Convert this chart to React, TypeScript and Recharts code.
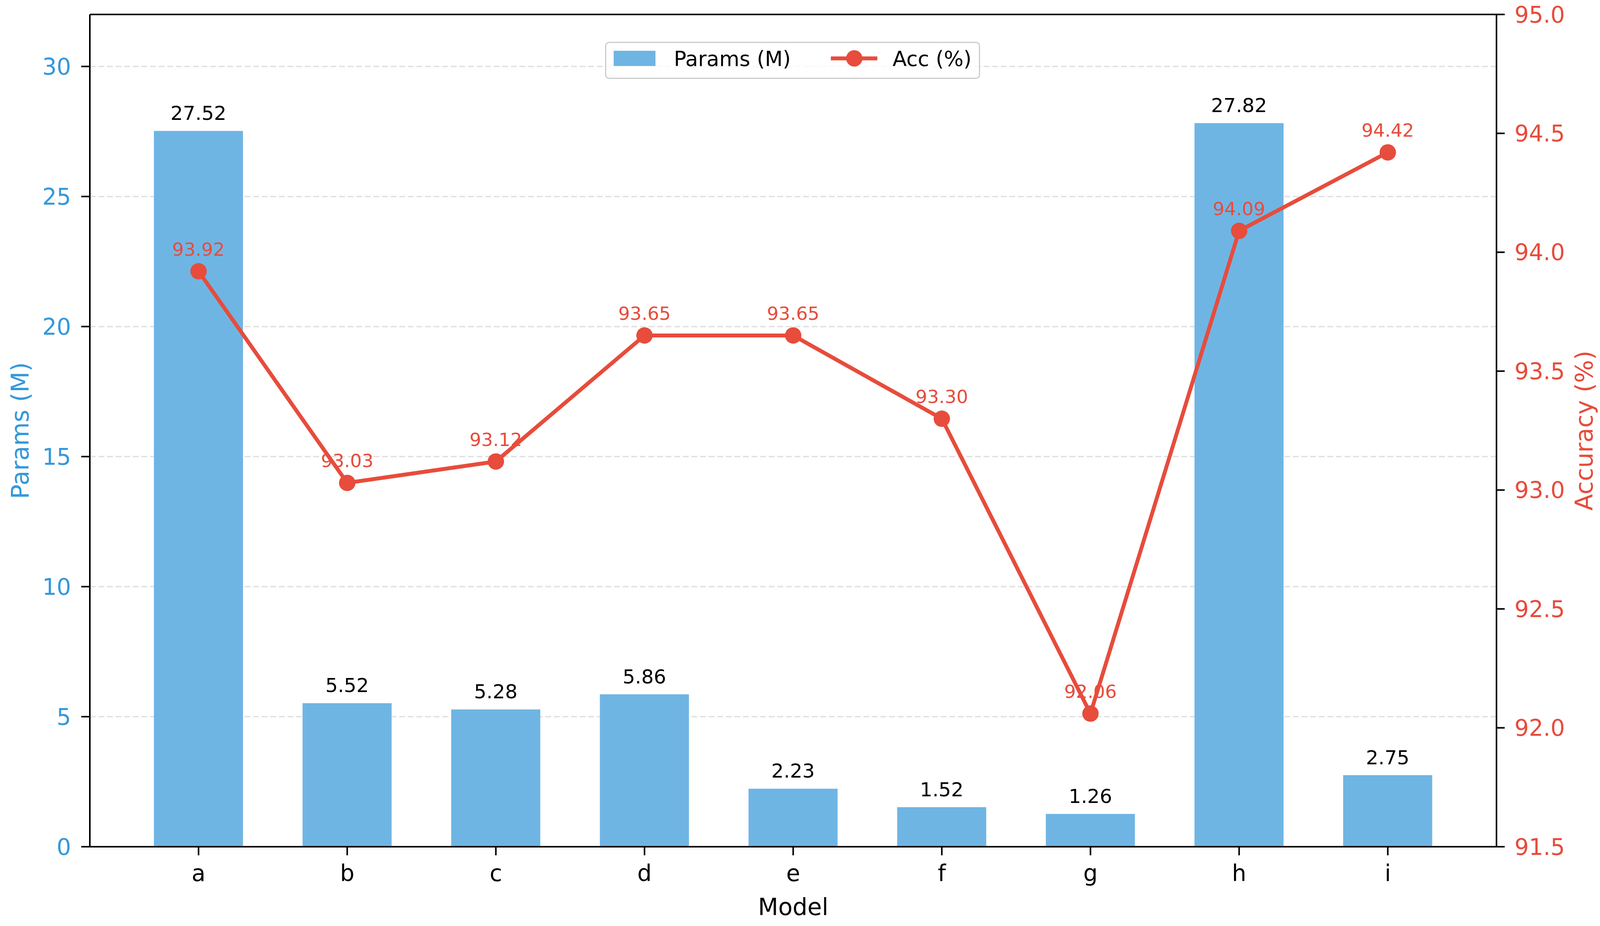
import React from "react";
import {
  ComposedChart,
  Bar,
  Line,
  XAxis,
  YAxis,
  CartesianGrid,
  LabelList,
  Label,
  ReferenceLine,
} from "recharts";

const models = ["a", "b", "c", "d", "e", "f", "g", "h", "i"];
const params = [27.52, 5.52, 5.28, 5.86, 2.23, 1.52, 1.26, 27.82, 2.75];
const acc = [93.92, 93.03, 93.12, 93.65, 93.65, 93.3, 92.06, 94.09, 94.42];
const paramTicks = [0, 5, 10, 15, 20, 25, 30];
const accTicks = [91.5, 92, 92.5, 93, 93.5, 94, 94.5, 95];

const BLUE = "#3498db";
const BAR = "#6fb5e4";
const RED = "#e74c3c";
const FONT = "DejaVu Sans";

const rows = models.map((m, i) => ({ model: m, params: params[i], acc: acc[i] }));

const fmt2 = (v: any) => Number(v).toFixed(2);

function leftTitle(p: any) {
  const vb = p.viewBox || { x: 0, y: 37, width: 230, height: 2131 };
  const x = vb.x + 73;
  const y = vb.y + vb.height / 2;
  return (
    <text x={x} y={y} transform={`rotate(-90 ${x} ${y})`} textAnchor="middle" fill={BLUE} fontSize={62} fontFamily={FONT}>
      Params (M)
    </text>
  );
}

function rightTitle(p: any) {
  const vb = p.viewBox || { x: 3831, y: 37, width: 275, height: 2131 };
  const x = vb.x + 246;
  const y = vb.y + vb.height / 2;
  return (
    <text x={x} y={y} transform={`rotate(-90 ${x} ${y})`} textAnchor="middle" fill={RED} fontSize={62} fontFamily={FONT}>
      Accuracy (%)
    </text>
  );
}

function bottomTitle(p: any) {
  const vb = p.viewBox || { x: 230, y: 2168, width: 3601, height: 203 };
  return (
    <text x={vb.x + vb.width / 2} y={vb.y + 175} textAnchor="middle" fill="#000" fontSize={60} fontFamily={FONT}>
      Model
    </text>
  );
}

function LegendBox() {
  return (
    <svg
      width={961}
      height={96}
      style={{ position: "absolute", left: 1549, top: 107 }}
      fontFamily={FONT}
    >
      <rect x={1.5} y={1.5} width={957} height={92} rx={9} fill="#fff" fillOpacity={0.8} stroke="#cccccc" strokeWidth={3} />
      <rect x={22} y={23} width={107} height={39} fill={BAR} />
      <text x={176} y={62} fontSize={53} fill="#000">
        Params (M)
      </text>
      <line x1={578} x2={697} y1={42.5} y2={42.5} stroke={RED} strokeWidth={10} />
      <circle cx={638} cy={42.5} r={21} fill={RED} />
      <text x={736} y={62} fontSize={53} fill="#000">
        Acc (%)
      </text>
    </svg>
  );
}

export default function App() {
  return (
    <div style={{ position: "absolute", left: 0, top: 0, width: 4106, height: 2371, background: "#fff", fontFamily: FONT }}>
      <ComposedChart width={4106} height={2371} data={rows} margin={{ top: 37, right: 0, bottom: 0, left: 0 }}>
        <XAxis
          dataKey="model"
          height={203}
          padding={{ left: 88, right: 88 }}
          axisLine={{ stroke: "#000", strokeWidth: 4 }}
          tickLine={{ stroke: "#000", strokeWidth: 4 }}
          tickSize={22}
          tickMargin={25}
          tick={{ fill: "#000", fontSize: 58, fontFamily: FONT }}
          interval={0}
        >
          <Label content={bottomTitle} />
        </XAxis>
        <YAxis
          yAxisId="left"
          orientation="left"
          width={230}
          domain={[0, 32]}
          ticks={paramTicks}
          axisLine={{ stroke: "#000", strokeWidth: 4 }}
          tickLine={{ stroke: "#000", strokeWidth: 4 }}
          tickSize={22}
          tickMargin={26}
          tick={{ fill: BLUE, fontSize: 58, fontFamily: FONT }}
        >
          <Label content={leftTitle} />
        </YAxis>
        <YAxis
          yAxisId="right"
          orientation="right"
          width={275}
          domain={[91.5, 95]}
          ticks={accTicks}
          tickFormatter={(v: number) => v.toFixed(1)}
          axisLine={{ stroke: "#000", strokeWidth: 4 }}
          tickLine={{ stroke: "#000", strokeWidth: 4 }}
          tickSize={21}
          tickMargin={25}
          tick={{ fill: RED, fontSize: 58, fontFamily: FONT }}
        >
          <Label content={rightTitle} />
        </YAxis>
        <Bar dataKey="params" yAxisId="left" fill={BAR} barSize={228} isAnimationActive={false}>
          <LabelList dataKey="params" position="top" offset={28} formatter={fmt2} fill="#000" fontSize={50} fontFamily={FONT} />
        </Bar>
        <CartesianGrid
          yAxisId="left"
          vertical={false}
          stroke="#c8c8c8"
          strokeOpacity={0.55}
          strokeWidth={3.5}
          strokeDasharray="15 7"
        />
        <Line
          dataKey="acc"
          yAxisId="right"
          stroke="none"
          dot={false}
          activeDot={false}
          legendType="none"
          isAnimationActive={false}
        >
          <LabelList dataKey="acc" position="top" offset={40} formatter={fmt2} fill={RED} fontSize={47} fontFamily={FONT} />
        </Line>
        <Line
          dataKey="acc"
          yAxisId="right"
          type="linear"
          stroke={RED}
          strokeWidth={10}
          dot={{ r: 21, fill: RED, stroke: RED, strokeWidth: 0 }}
          activeDot={false}
          isAnimationActive={false}
        />
        <ReferenceLine y={32} yAxisId="left" stroke="#000" strokeWidth={4} />
      </ComposedChart>
      <LegendBox />
    </div>
  );
}
